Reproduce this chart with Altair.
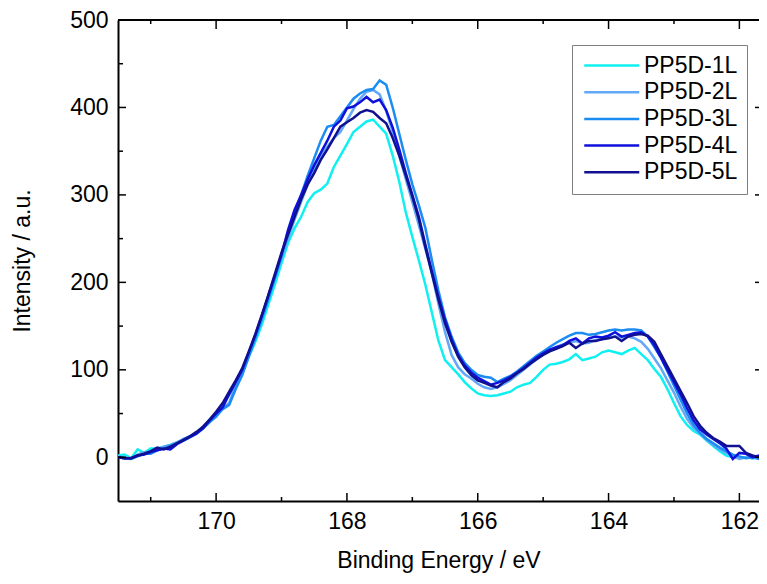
import altair as alt
import pandas as pd

# ---------------- data ----------------
energy = [round(171.5 - 0.1 * i, 1) for i in range(101)]  # 171.5 ... 161.5 eV

series_names = ["PP5D-1L", "PP5D-2L", "PP5D-3L", "PP5D-4L", "PP5D-5L"]
series_colors = ["#10F0F0", "#62A8F6", "#1A8CF2", "#1010DC", "#101090"]

pp5d_1l = [2, 3, -1, 9, 5, 10, 10, 12, 14, 17,
           19, 23, 27, 33, 43, 50, 60, 72, 84, 99,
           115, 132, 152, 175, 198, 222, 245, 262, 275, 292,
           302, 306, 313, 332, 345, 358, 372, 378, 384, 386,
           378, 370, 345, 315, 280, 252, 225, 197, 165, 133,
           111, 103, 95, 86, 79, 73, 71, 70, 71, 73,
           75, 80, 83, 85, 92, 100, 106, 107, 109, 112,
           118, 111, 113, 115, 120, 122, 120, 118, 122, 125,
           118, 111, 101, 92, 78, 62, 47, 37, 30, 26,
           19, 13, 7, 2, 0, -1, 0, -1, 0, 1,
           0]
pp5d_2l = [1, 0, -1, 3, 6, 5, 9, 12, 14, 17,
           21, 24, 28, 35, 41, 46, 56, 62, 82, 96,
           116, 138, 160, 183, 206, 228, 250, 272, 292, 312,
           330, 344, 355, 365, 372, 385, 398, 410, 418, 420,
           415, 396, 372, 345, 318, 292, 265, 238, 210, 175,
           143, 117, 103, 95, 90, 84, 80, 78, 80, 84,
           88, 94, 100, 106, 112, 118, 122, 126, 129, 131,
           133, 130, 131, 134, 135, 137, 138, 137, 138, 136,
           132, 124, 113, 102, 88, 74, 58, 44, 34, 27,
           20, 14, 9, 5, 2, -2, 0, -1, 0, 0,
           0]
pp5d_3l = [0, -1, -2, 1, 4, 4, 8, 10, 13, 16,
           20, 24, 28, 33, 40, 47, 55, 60, 78, 94,
           115, 136, 158, 181, 205, 230, 255, 278, 300, 322,
           342, 362, 378, 380, 390, 400, 410, 416, 420, 421,
           431, 426, 400, 370, 340, 312, 288, 262, 225, 190,
           160, 138, 120, 108, 100, 94, 92, 91, 86, 90,
           93, 98, 104, 110, 116, 121, 126, 131, 135, 139,
           142, 142, 140, 141, 143, 145, 146, 145, 146, 146,
           145, 138, 126, 114, 98, 82, 66, 50, 37, 28,
           21, 16, 11, 7, 3, 1, -1, 0, -2, 0,
           0]
pp5d_4l = [0, -1, -1, 2, 3, 6, 8, 10, 9, 15,
           19, 23, 27, 33, 42, 50, 57, 72, 86, 100,
           120, 140, 162, 185, 208, 232, 260, 283, 300, 318,
           334, 348, 362, 378, 385, 399, 401, 406, 412, 406,
           409, 397, 377, 352, 325, 300, 275, 243, 212, 183,
           157, 135, 117, 105, 97, 91, 87, 83, 85, 88,
           92, 97, 102, 108, 114, 119, 123, 126, 128, 133,
           136, 130, 136, 138, 137, 139, 143, 138, 140, 142,
           143, 138, 128, 114, 100, 86, 72, 56, 42, 32,
           26, 21, 16, 10, -2, 5, 4, 0, 2, 0,
           0]
pp5d_5l = [0, -1, -1, 2, 4, 7, 11, 9, 12, 16,
           20, 24, 29, 35, 43, 52, 62, 75, 88, 102,
           121, 141, 163, 186, 210, 234, 255, 275, 295, 312,
           325, 340, 352, 365, 378, 383, 388, 394, 397, 395,
           388, 382, 365, 345, 322, 298, 272, 240, 210, 180,
           153, 132, 115, 103, 94, 88, 85, 82, 80, 86,
           90, 96, 101, 107, 112, 117, 121, 124, 127, 131,
           125, 130, 133, 133, 135, 136, 138, 133, 138, 140,
           141, 139, 132, 118, 104, 90, 76, 62, 47, 36,
           28, 22, 18, 13, 13, 13, 5, 2, 0, 0,
           0]

x_major_ticks = [170, 168, 166, 164, 162]
x_minor_ticks = [171, 169, 167, 165, 163]
y_major_ticks = [0, 100, 200, 300, 400, 500]
y_minor_ticks = [50, 150, 250, 350, 450]

# ---------------- build table ----------------
all_values = [pp5d_1l, pp5d_2l, pp5d_3l, pp5d_4l, pp5d_5l]
rows = []
for name, vals in zip(series_names, all_values):
    for e, v in zip(energy, vals):
        rows.append({"E": e, "I": v, "series": name})
df = pd.DataFrame(rows)

FONT = "Liberation Sans"
W, H = 641, 481

xscale = alt.Scale(domain=[161.70, 171.5], reverse=True, nice=False, zero=False)
yscale = alt.Scale(domain=[-50, 500], nice=False, zero=False)

x_axis = alt.Axis(values=x_major_ticks, title="Binding Energy / eV", ticks=False,
                  grid=False, labelPadding=9, titlePadding=16, format="d",
                  domainColor="black", domainWidth=2)
y_axis = alt.Axis(values=y_major_ticks, title="Intensity / a.u.", ticks=False,
                  grid=False, labelPadding=10, titlePadding=35,
                  domainColor="black", domainWidth=2)

lines = alt.Chart(df).mark_line(strokeWidth=2.5, clip=True).encode(
    x=alt.X("E:Q", scale=xscale, axis=x_axis),
    y=alt.Y("I:Q", scale=yscale, axis=y_axis),
    color=alt.Color("series:N",
                    scale=alt.Scale(domain=series_names, range=series_colors),
                    legend=alt.Legend(title=None, orient="none", legendX=454, legendY=25,
                                      strokeColor="#808080", fillColor="white", padding=9,
                                      labelFontSize=23, labelFont=FONT, labelColor="black",
                                      symbolType="M-1.5,0H8.5", symbolSize=121,
                                      symbolStrokeWidth=2.5, rowPadding=2.7, labelOffset=40)),
)

def xticks(vals, y0, y1):
    return alt.Chart(pd.DataFrame({"E": vals})).mark_rule(color="black", strokeWidth=1.5).encode(
        x=alt.X("E:Q", scale=xscale, axis=x_axis), y=alt.value(y0), y2=alt.value(y1))

def yticks(vals, x0, x1):
    return alt.Chart(pd.DataFrame({"I": vals})).mark_rule(color="black", strokeWidth=1.5).encode(
        y=alt.Y("I:Q", scale=yscale, axis=y_axis), x=alt.value(x0), x2=alt.value(x1))

top_line = alt.Chart(pd.DataFrame({"k": [0]})).mark_rule(color="black", strokeWidth=2).encode(
    x=alt.value(0), x2=alt.value(W), y=alt.value(0))

chart = alt.layer(
    lines,
    top_line,
    xticks(x_major_ticks, H, H - 8),
    xticks(x_minor_ticks, H, H - 4),
    xticks(x_major_ticks, 0, 9),
    xticks(x_minor_ticks, 0, 4),
    yticks(y_major_ticks, 0, 8),
    yticks(y_minor_ticks, 0, 5),
    yticks(y_major_ticks, W - 4, W),
).properties(
    width=W, height=H,
    autosize=alt.AutoSizeParams(type="none"),
    padding={"left": 110, "top": 12, "right": 0, "bottom": 75},
).configure_view(stroke=None).configure_axis(
    labelFont=FONT, titleFont=FONT, labelFontSize=23, titleFontSize=23,
    labelColor="black", titleColor="black", titleFontWeight="normal",
).configure_legend(labelFont=FONT)

chart.save("out.html", embed_options={"renderer": "svg", "actions": False})
